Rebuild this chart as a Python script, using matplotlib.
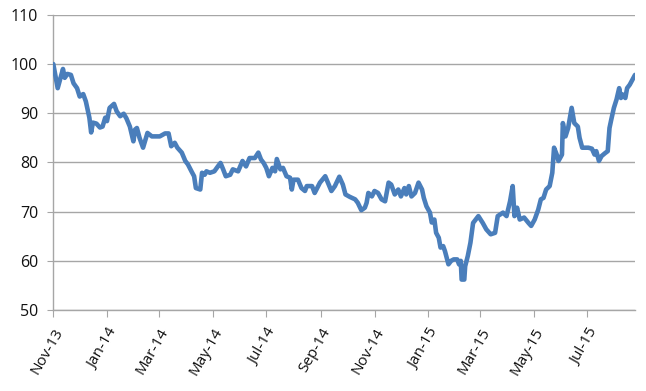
import numpy as np
import pandas as pd
import matplotlib
matplotlib.use('Agg')
import matplotlib.pyplot as plt
import matplotlib.dates as mdates

# days after 2013-11-01 and index value
days = [0, 5, 11, 13, 16, 20, 23, 27, 30, 34, 37, 41, 43, 45, 49, 53, 56, 59, 61, 64,
        69, 72, 76, 80, 83, 87, 91, 93, 95, 98, 102, 107, 112, 121, 127, 131, 134, 138, 141, 146,
        150, 153, 157, 160, 162, 167, 169, 172, 174, 178, 183, 187, 190, 193, 196, 201, 204, 210, 215, 219,
        223, 229, 233, 236, 239, 242, 245, 249, 252, 254, 258, 261, 265, 269, 271, 273, 278, 282, 286, 288,
        294, 297, 303, 309, 312, 316, 320, 325, 329, 332, 337, 343, 346, 350, 354, 356, 358, 362, 365, 369,
        373, 377, 381, 384, 388, 392, 395, 399, 401, 404, 407, 411, 415, 419, 421, 424, 428, 430, 433, 435,
        438, 440, 443, 445, 449, 452, 455, 459, 461, 463, 464, 467, 468, 471, 474, 477, 483, 488, 492, 497,
        502, 505, 511, 515, 519, 522, 524, 527, 530, 535, 540, 543, 547, 551, 554, 557, 560, 564, 567, 569,
        572, 574, 578, 579, 582, 585, 589, 592, 596, 598, 601, 608, 612, 615, 617, 620, 623, 627, 630, 632,
        634, 637, 640, 643, 645, 647, 650, 652, 655, 658, 661]
values = [100.0, 95.1, 99.0, 97.2, 98.0, 97.8, 96.1, 95.1, 93.4, 93.9, 92.4, 89.1, 86.1, 88.1, 87.9, 87.1, 87.3, 89.1, 88.4, 91.1,
          91.9, 90.4, 89.4, 89.9, 89.0, 87.3, 84.3, 86.7, 87.0, 85.0, 83.0, 86.0, 85.3, 85.3, 85.9, 85.9, 83.3, 84.0, 83.0, 82.0,
          80.3, 79.6, 78.2, 77.2, 74.8, 74.5, 77.9, 77.5, 78.2, 77.9, 78.2, 79.2, 79.9, 78.6, 77.2, 77.5, 78.6, 78.2, 80.3, 79.2,
          80.9, 80.9, 82.0, 80.6, 79.9, 78.9, 77.2, 78.9, 78.2, 80.7, 78.6, 78.9, 77.2, 76.9, 74.5, 76.5, 76.5, 74.8, 74.2, 75.2,
          75.2, 73.8, 75.9, 77.2, 75.9, 74.2, 75.2, 77.1, 75.5, 73.5, 73.0, 72.5, 71.8, 70.3, 70.8, 71.8, 73.8, 73.1, 74.2, 73.8,
          72.5, 72.1, 75.9, 75.5, 73.5, 74.5, 73.1, 74.8, 73.5, 75.2, 73.1, 73.8, 75.9, 74.5, 72.8, 71.1, 69.8, 67.8, 68.4, 65.7,
          64.7, 62.7, 63.0, 62.0, 59.3, 60.0, 60.3, 60.3, 59.3, 60.0, 56.2, 56.2, 58.9, 61.0, 63.7, 67.7, 69.1, 67.7, 66.4, 65.4,
          65.7, 69.1, 69.8, 69.1, 72.1, 75.2, 69.1, 70.8, 68.4, 68.8, 67.7, 67.1, 68.4, 70.4, 72.5, 72.8, 74.5, 75.2, 77.9, 83.0,
          81.6, 80.3, 81.6, 88.0, 85.3, 87.0, 91.1, 88.0, 87.3, 85.0, 83.0, 83.0, 82.8, 81.6, 82.3, 80.3, 81.3, 81.9, 82.3, 87.0,
          88.7, 91.1, 92.8, 95.1, 93.1, 93.8, 93.1, 95.1, 95.8, 96.8, 97.8]

dates = pd.Timestamp('2013-11-01') + pd.to_timedelta(days, unit='D')

plt.rcParams['font.family'] = ['Open Sans', 'DejaVu Sans']

fig = plt.figure(figsize=(6.46, 3.91), dpi=100)
ax = fig.add_axes([0.0825, 0.207, 0.9005, 0.755])

ax.plot(dates, values, color='#4A7EBB', lw=3.3, solid_joinstyle='round', solid_capstyle='round', zorder=3)

ax.set_ylim(50, 110)
ax.set_yticks(np.arange(50, 111, 10))
ax.set_xlim(dates[0], dates[-1])
ax.xaxis.set_major_locator(mdates.MonthLocator(bymonth=[1, 3, 5, 7, 9, 11]))
ax.xaxis.set_major_formatter(mdates.DateFormatter('%b-%y'))

ax.grid(axis='y', color='#A6A6A6', lw=1.0, zorder=0)
for s in ['top', 'right']:
    ax.spines[s].set_visible(False)
for s in ['left', 'bottom']:
    ax.spines[s].set_color('#A6A6A6')
    ax.spines[s].set_linewidth(1.0)

ax.tick_params(axis='y', length=4, color='#A6A6A6', labelsize=11.5, pad=7, labelcolor='#111111')
ax.tick_params(axis='x', length=5, color='#A6A6A6', labelsize=11, pad=6, labelcolor='#111111')
for lab in ax.get_xticklabels():
    lab.set_rotation(60)
    lab.set_ha('right')
    lab.set_rotation_mode('anchor')

fig.savefig('out.png', dpi=100)
